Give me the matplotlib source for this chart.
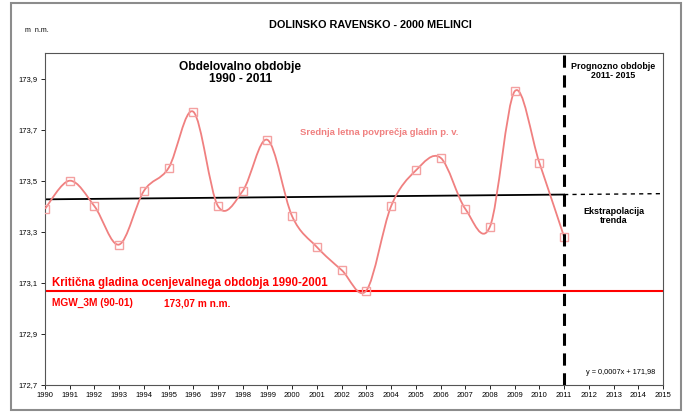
import numpy as np
import matplotlib
matplotlib.use("Agg")
import matplotlib.pyplot as plt
from matplotlib.path import Path
from matplotlib.patches import PathPatch, Rectangle

plt.rcParams["font.family"] = ["Liberation Sans", "DejaVu Sans"]

years = list(range(1990, 2012))
levels = [173.39, 173.50, 173.40, 173.25, 173.46, 173.55, 173.77, 173.40, 173.46, 173.66, 173.36,
          173.24, 173.15, 173.07, 173.40, 173.54, 173.59, 173.39, 173.32, 173.85, 173.57, 173.28]
critical = 173.07
x_ticks = list(range(1990, 2016))
y_ticks = [172.7, 172.9, 173.1, 173.3, 173.5, 173.7, 173.9]

line_col = "#f08080"
mark_col = "#f4a0a0"

fig = plt.figure(figsize=(6.88, 4.12), dpi=100)
ax = fig.add_axes([45 / 688, 1 - 385 / 412, 618 / 688, 332 / 412])

# smoothed line like excel (cardinal bezier through the points)
pts = np.column_stack([years, levels]).astype(float)
n = len(pts)
verts = [pts[0]]
codes = [Path.MOVETO]
for i in range(n - 1):
    p0 = pts[max(i - 1, 0)]
    p1 = pts[i]
    p2 = pts[i + 1]
    p3 = pts[min(i + 2, n - 1)]
    verts += [p1 + (p2 - p0) / 6, p2 - (p3 - p1) / 6, p2]
    codes += [Path.CURVE4] * 3
ax.add_patch(PathPatch(Path(verts, codes), facecolor="none", edgecolor=line_col, lw=1.3, zorder=3))
ax.plot(years, levels, ls="none", marker="s", ms=6, mfc="none", mec=mark_col, mew=1.0, zorder=4)

# trend line
k, b = np.polyfit(years, levels, 1)
ax.plot([1990, 2011], [k * 1990 + b, k * 2011 + b], color="black", lw=1.3, zorder=2)
ax.plot([2011, 2015], [k * 2011 + b, k * 2015 + b], color="black", lw=1.0, ls=(0, (3, 3)), zorder=2)

# critical level
ax.axhline(critical, color="red", lw=1.5, zorder=2)

# forecast border
ax.axvline(2011, color="black", lw=2.2, ls=(0, (4, 2.5)), zorder=5)

ax.set_xlim(1990, 2015)
ax.set_ylim(172.7, 174.0)
ax.set_xticks(x_ticks)
ax.set_xticklabels([str(x) for x in x_ticks], fontsize=5.5)
ax.set_yticks(y_ticks)
ax.set_yticklabels([f"{v:.1f}".replace(".", ",") for v in y_ticks], fontsize=5.5)
ax.tick_params(length=3, width=0.6, pad=2)
for s in ax.spines.values():
    s.set_color("#555555")
    s.set_linewidth(0.8)

ax.text(1997.9, 173.92, "Obdelovalno obdobje\n1990 - 2011", ha="center", va="center",
        fontsize=8.6, fontweight="bold", linespacing=1.0)
ax.text(2013.0, 173.93, "Prognozno obdobje\n2011- 2015", ha="center", va="center",
        fontsize=6.4, fontweight="bold", linespacing=1.0)
ax.text(2000.3, 173.69, "Srednja letna povprečja gladin p. v.", ha="left", va="center",
        fontsize=6.8, fontweight="bold", color=line_col)
ax.text(2013.0, 173.36, "Ekstrapolacija\ntrenda", ha="center", va="center",
        fontsize=6.5, fontweight="bold", linespacing=1.0)
ax.text(1990.3, 173.10, "Kritična gladina ocenjevalnega obdobja 1990-2001", ha="left", va="center",
        fontsize=8.3, fontweight="bold", color="red")
ax.text(1990.3, 173.02, "MGW_3M (90-01)", ha="left", va="center",
        fontsize=7.3, fontweight="bold", color="red")
ax.text(1994.8, 173.02, "173,07 m n.m.", ha="left", va="center",
        fontsize=7.3, fontweight="bold", color="red")
ax.text(2014.7, 172.75, "y = 0,0007x + 171,98", ha="right", va="center", fontsize=5.3)

fig.text(0.539, 0.939, "DOLINSKO RAVENSKO - 2000 MELINCI", ha="center", va="center",
         fontsize=7.8, fontweight="bold")
fig.text(0.036, 0.927, "m  n.m.", ha="left", va="center", fontsize=5)

fig.patches.append(Rectangle((11 / 688, 2 / 412), 670 / 688, 407 / 412, transform=fig.transFigure,
                             fill=False, edgecolor="#8c8c8c", lw=1.5))

fig.savefig("out.png", dpi=100)
